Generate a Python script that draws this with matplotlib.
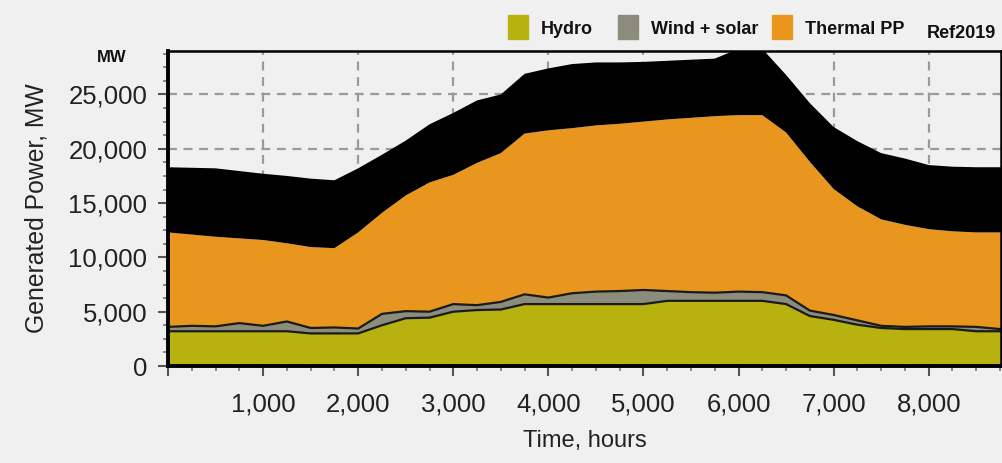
import matplotlib
matplotlib.use("Agg")
import matplotlib.pyplot as plt
from matplotlib.patches import Rectangle
from matplotlib.ticker import MultipleLocator, FuncFormatter
import numpy as np

plt.rcParams['font.family'] = ['Liberation Sans', 'DejaVu Sans']

# hours of the year (read every 250 h)
hours = [0, 250, 500, 750, 1000, 1250, 1500, 1750, 2000, 2250, 2500, 2750,
         3000, 3250, 3500, 3750, 4000, 4250, 4500, 4750, 5000, 5250, 5500,
         5750, 6000, 6250, 6500, 6750, 7000, 7250, 7500, 7750, 8000, 8250,
         8500, 8750, 8760]

# generation, MW
hydro = [3200, 3200, 3200, 3200, 3200, 3200, 3000, 3000, 3000, 3750, 4400, 4450,
         5000, 5150, 5200, 5700, 5700, 5700, 5700, 5700, 5700, 6000, 6000,
         6000, 6000, 6000, 5700, 4600, 4250, 3800, 3500, 3400, 3400, 3400,
         3200, 3200, 3200]
wind_solar = [400, 500, 450, 750, 500, 900, 500, 550, 450, 1050, 650, 550,
              700, 450, 700, 900, 600, 1000, 1150, 1200, 1300, 900, 800,
              750, 850, 800, 800, 500, 450, 400, 200, 200, 250, 250,
              400, 200, 200]
thermal = [8700, 8400, 8250, 7800, 7900, 7200, 7450, 7300, 8850, 9300, 10650, 11900,
           11900, 13100, 13700, 14800, 15400, 15200, 15300, 15400, 15500, 15800, 16050,
           16250, 16250, 16300, 15000, 13700, 11600, 10500, 9800, 9400, 8950, 8750,
           8700, 8900, 8900]
# daily peaking range of thermal PP (black band)
thermal_swing = [6000, 6150, 6300, 6200, 6100, 6200, 6300, 6250, 5900, 5350, 5050, 5350,
                 5700, 5750, 5400, 5500, 5700, 5900, 5800, 5650, 5500, 5400, 5350,
                 5300, 6100, 6100, 5300, 5400, 5700, 6000, 6100, 6100, 5900, 5950,
                 6000, 6000, 6000]

fig = plt.figure(figsize=(10.03, 4.63), dpi=100, facecolor='#f0f0f0')
ax = fig.add_axes([0.1675, 0.2095, 0.8305, 0.6803])
ax.set_facecolor('#f0f0f0')

ax.stackplot(hours, hydro, wind_solar, thermal, thermal_swing,
             colors=['#b7b20f', '#8c8c7c', '#e8961e', '#000000'], linewidth=0)
h = np.array(hydro)
ax.plot(hours, h, color='#1a1a1a', lw=1.6)
ax.plot(hours, h + np.array(wind_solar), color='#1a1a1a', lw=1.6)

ax.set_xlim(0, 8760)
ax.set_ylim(0, 29000)
ax.xaxis.set_major_locator(MultipleLocator(1000))
ax.xaxis.set_minor_locator(MultipleLocator(250))
ax.yaxis.set_major_locator(MultipleLocator(5000))
ax.yaxis.set_minor_locator(MultipleLocator(1250))
ax.yaxis.set_major_formatter(FuncFormatter(lambda v, p: f'{int(v):,}'))
ax.xaxis.set_major_formatter(FuncFormatter(lambda v, p: '' if v == 0 else f'{int(v):,}'))

ax.set_axisbelow(True)
ax.grid(True, which='major', color='#9a9a9a', ls=(0, (4, 3)), lw=1.6)
ax.tick_params(which='major', direction='out', length=7, width=1.5, color='#555555',
               labelsize=18.5, labelcolor='#222222')
ax.tick_params(axis='y', which='major', pad=8)
ax.tick_params(axis='x', which='major', pad=12)
ax.tick_params(which='minor', direction='out', length=3.5, width=1.2, color='#777777')
for side in ['left', 'bottom']:
    ax.spines[side].set_linewidth(2.8)
for side in ['top', 'right']:
    ax.spines[side].set_linewidth(1.8)

ax.set_ylabel('Generated Power, MW', fontsize=17.8, color='#222222', labelpad=14)
ax.set_xlabel('Time, hours', fontsize=17, color='#222222', labelpad=10)

fig.text(112 / 1003, 1 - 57 / 463, 'MW', fontsize=12, fontweight='bold',
         ha='center', va='center', color='#111111')

# legend along the top
W, H = 1003, 463
items = [(508, '#b7b20f', 'Hydro'), (618, '#8c8c7c', 'Wind + solar'),
         (772, '#e8961e', 'Thermal PP')]
for x0, col, lab in items:
    fig.add_artist(Rectangle((x0 / W, 1 - 39 / H), 20 / W, 24 / H, color=col,
                             transform=fig.transFigure))
    fig.text((x0 + 33) / W, 1 - 29 / H, lab, fontsize=13, fontweight='bold',
             ha='left', va='center', color='#111111')
fig.text(996 / W, 1 - 33 / H, 'Ref2019', fontsize=13, fontweight='bold',
         ha='right', va='center', color='#111111')

fig.savefig('out.png', dpi=100, facecolor=fig.get_facecolor())
